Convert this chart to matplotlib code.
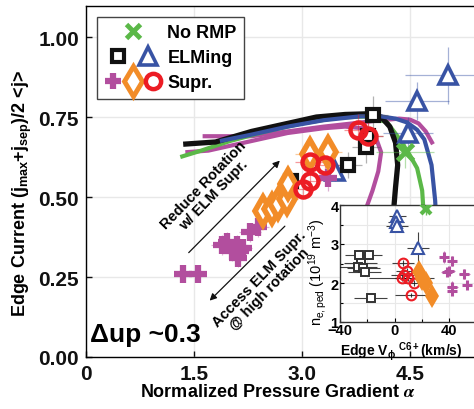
import matplotlib
matplotlib.use("Agg")
import matplotlib.pyplot as plt
from matplotlib.lines import Line2D
from matplotlib.legend_handler import HandlerTuple
import matplotlib.ticker as mticker

plt.rcParams["font.family"] = ["Liberation Sans", "DejaVu Sans"]
plt.rcParams["font.weight"] = "bold"
plt.rcParams["axes.labelweight"] = "bold"
plt.rcParams["mathtext.fontset"] = "stix"

GREEN = "#5BB848"
BLUE = "#3853A4"
MAGENTA = "#B24E9E"
ORANGE = "#F28C28"
RED = "#EC1C24"
BLACK = "#111111"
GRID = "#E8E8E8"

# ---- main panel: edge current vs normalized pressure gradient ----
norp_alpha = [4.43]
norp_j = [0.64]
norp_xerr = [0.40]
norp_yerr = [0.05]

elm_sq_alpha = [2.85, 3.64, 3.89, 3.92, 3.99]
elm_sq_j = [0.55, 0.60, 0.655, 0.69, 0.755]
elm_sq_xerr = [0.15, 0.20, 0.20, 0.20, 0.20]
elm_sq_yerr = [0.03, 0.04, 0.05, 0.05, 0.06]

elm_tri_alpha = [3.46, 4.47, 4.60, 5.03]
elm_tri_j = [0.58, 0.70, 0.80, 0.88]
elm_tri_xerr = [0.15, 0.35, 0.44, 0.60]
elm_tri_yerr = [0.03, 0.05, 0.06, 0.09]

supr_plus_alpha = [1.35, 1.56, 1.89, 1.96, 2.03, 2.10, 2.11, 2.14, 2.18, 2.28, 2.39, 3.36]
supr_plus_j = [0.26, 0.26, 0.35, 0.36, 0.33, 0.35, 0.31, 0.33, 0.34, 0.39, 0.405, 0.56]
supr_plus_xerr = [0.08, 0.08, 0.15, 0.12, 0.12, 0.15, 0.10, 0.12, 0.12, 0.15, 0.15, 0.15]
supr_plus_yerr = [0.02, 0.02, 0.03, 0.03, 0.03, 0.03, 0.03, 0.03, 0.03, 0.03, 0.03, 0.04]

supr_dia_alpha = [2.46, 2.58, 2.67, 2.79, 2.81, 3.11, 3.36]
supr_dia_j = [0.456, 0.462, 0.478, 0.494, 0.54, 0.635, 0.64]
supr_dia_xerr = [0.15, 0.15, 0.15, 0.15, 0.15, 0.20, 0.20]
supr_dia_yerr = [0.03, 0.03, 0.03, 0.03, 0.04, 0.05, 0.05]

supr_circ_alpha = [3.02, 3.11, 3.11, 3.32, 3.78, 3.92]
supr_circ_j = [0.525, 0.55, 0.61, 0.60, 0.71, 0.69]
supr_circ_xerr = [0.15, 0.15, 0.20, 0.20, 0.20, 0.20]
supr_circ_yerr = [0.03, 0.03, 0.04, 0.04, 0.05, 0.05]

# peeling-ballooning stability boundaries
bnd_black_a = [1.35, 1.8, 2.3, 2.8, 3.2, 3.6, 3.9, 4.1, 4.22, 4.3, 4.33, 4.3, 4.27]
bnd_black_j = [0.665, 0.672, 0.705, 0.73, 0.75, 0.758, 0.76, 0.75, 0.72, 0.67, 0.60, 0.53, 0.45]
bnd_green_a = [1.31, 1.6, 2.0, 2.5, 3.0, 3.5, 3.9, 4.18, 4.36, 4.5, 4.6, 4.67, 4.69]
bnd_green_j = [0.625, 0.645, 0.675, 0.705, 0.73, 0.748, 0.752, 0.734, 0.68, 0.63, 0.59, 0.52, 0.45]
bnd_blue_a = [1.86, 2.3, 2.8, 3.3, 3.8, 4.1, 4.3, 4.46, 4.6, 4.7, 4.8, 4.85, 4.86]
bnd_blue_j = [0.675, 0.695, 0.72, 0.74, 0.752, 0.752, 0.745, 0.733, 0.71, 0.68, 0.60, 0.49, 0.45]
bnd_mag1_a = [1.62, 2.0, 2.3, 2.8, 3.3, 3.7, 4.1, 4.35, 4.5, 4.62, 4.72, 4.82]
bnd_mag1_j = [0.69, 0.69, 0.69, 0.705, 0.72, 0.73, 0.74, 0.745, 0.742, 0.73, 0.705, 0.665]
bnd_mag2_a = [1.38, 1.7, 2.2, 2.8, 3.3, 3.6, 3.85, 4.02, 4.1, 4.06, 3.98, 3.9, 3.87]
bnd_mag2_j = [0.64, 0.645, 0.67, 0.70, 0.715, 0.72, 0.715, 0.69, 0.64, 0.58, 0.52, 0.47, 0.45]

# ---- inset: pedestal density vs edge carbon rotation ----
in_norp_v = [23]
in_norp_n = [3.9]
in_sq_v = [-26, -19, -25, -27, -23, -22, -17.5]
in_sq_n = [2.72, 2.72, 2.51, 2.41, 2.38, 2.28, 1.62]
in_sq_verr = [10, 10, 12, 14, 12, 12, 12]
in_sq_nerr = [0.12, 0.1, 0.1, 0.12, 0.1, 0.1, 0.08]
in_tri_v = [2, 1, 1.5, 17]
in_tri_n = [3.72, 3.56, 3.45, 2.9]
in_tri_verr = [6, 6, 8, 8]
in_tri_nerr = [0.12, 0.12, 0.15, 0.42]
in_circ_v = [6, 9, 7, 5, 10, 14, 12]
in_circ_n = [2.51, 2.31, 2.2, 2.12, 2.12, 2.0, 1.69]
in_circ_verr = [8, 8, 10, 24, 10, 8, 12]
in_circ_nerr = [0.08, 0.08, 0.08, 0.08, 0.08, 0.08, 0.06]
in_dia_v = [17.5, 20, 23, 27]
in_dia_n = [2.28, 2.1, 2.0, 1.67]
in_plus_v = [36, 42, 38, 40, 51, 42, 53, 42]
in_plus_n = [2.67, 2.56, 2.28, 2.3, 2.23, 1.9, 1.95, 1.8]
in_plus_verr = [3, 3, 4, 4, 4, 4, 3, 3]
in_plus_nerr = [0.15, 0.12, 0.1, 0.1, 0.12, 0.15, 0.1, 0.1]


def errbars(ax, x, y, xerr, yerr, color, lw=0.9, alpha=0.45):
    ax.errorbar(x, y, xerr=xerr, yerr=yerr, fmt="none", ecolor=color,
                elinewidth=lw, alpha=alpha, capsize=0, zorder=4)


fig = plt.figure(figsize=(4.74, 4.10), dpi=100)
ax = fig.add_axes([86 / 474, 1 - 358 / 410, 1 - 86 / 474, (358 - 7) / 410])

ax.set_xlim(0, 5.39)
ax.set_ylim(0, 1.097)
ax.set_xticks([0, 1.5, 3.0, 4.5])
ax.set_xticklabels(["0", "1.5", "3.0", "4.5"])
ax.set_yticks([0, 0.25, 0.5, 0.75, 1.0])
ax.yaxis.set_major_formatter(mticker.FormatStrFormatter("%.2f"))
ax.tick_params(direction="in", length=4, width=1, labelsize=15, pad=5, colors=BLACK)
ax.grid(color=GRID, lw=1, zorder=0)
ax.spines["right"].set_visible(False)
for s in ("left", "bottom", "top"):
    ax.spines[s].set_linewidth(1.0)

ax.set_xlabel(r"Normalized Pressure Gradient $\alpha$", fontsize=13)
ax.xaxis.set_label_coords(0.495, -0.097)
ax.set_ylabel(r"Edge Current (j$\mathregular{_{max}}$+j$\mathregular{_{sep}}$)/2 <j>",
              fontsize=13)
ax.yaxis.set_label_coords(-0.165, 0.47)
ax.xaxis.label.set_va("center")
ax.yaxis.label.set_va("center")

# stability boundaries
ax.plot(bnd_mag2_a, bnd_mag2_j, color=MAGENTA, lw=3.0, zorder=2, solid_capstyle="butt")
ax.plot(bnd_mag1_a, bnd_mag1_j, color=MAGENTA, lw=3.0, zorder=2, solid_capstyle="butt")
ax.plot(bnd_green_a, bnd_green_j, color=GREEN, lw=3.0, zorder=2, solid_capstyle="butt")
ax.plot(bnd_blue_a, bnd_blue_j, color=BLUE, lw=3.0, zorder=2.5, solid_capstyle="butt")
ax.plot(bnd_black_a, bnd_black_j, color=BLACK, lw=3.8, zorder=2.2, solid_capstyle="butt")

# measured points
errbars(ax, elm_tri_alpha, elm_tri_j, elm_tri_xerr, elm_tri_yerr, BLUE)
errbars(ax, norp_alpha, norp_j, norp_xerr, norp_yerr, GREEN)
errbars(ax, elm_sq_alpha, elm_sq_j, elm_sq_xerr, elm_sq_yerr, "#555555")
errbars(ax, supr_plus_alpha, supr_plus_j, supr_plus_xerr, supr_plus_yerr, MAGENTA)
errbars(ax, supr_dia_alpha, supr_dia_j, supr_dia_xerr, supr_dia_yerr, ORANGE)
errbars(ax, supr_circ_alpha, supr_circ_j, supr_circ_xerr, supr_circ_yerr, RED)

ax.plot(elm_tri_alpha, elm_tri_j, ls="none", marker="^", ms=13, mew=2.6,
        mec=BLUE, mfc="white", zorder=5)
ax.plot(norp_alpha, norp_j, ls="none", marker="x", ms=11, mew=3.5, mec=GREEN, zorder=5)
ax.plot(elm_sq_alpha, elm_sq_j, ls="none", marker="s", ms=9, mew=3.0,
        mec=BLACK, mfc="white", zorder=5)
ax.plot(supr_plus_alpha, supr_plus_j, ls="none", marker="+", ms=13, mew=4.5,
        mec=MAGENTA, zorder=5)
ax.plot(supr_dia_alpha, supr_dia_j, ls="none", marker="d", ms=14, mew=4.0,
        mec=ORANGE, mfc="white", zorder=5)
ax.plot(supr_circ_alpha, supr_circ_j, ls="none", marker="o", ms=11.5, mew=3.2,
        mec=RED, mfc="none", zorder=6)

# rotation arrows
ax.annotate("", xy=(2.72, 0.62), xytext=(1.40, 0.32),
            arrowprops=dict(arrowstyle="-|>", color=BLACK, lw=0.9, mutation_scale=10), zorder=3)
ax.annotate("", xy=(1.69, 0.17), xytext=(2.79, 0.415),
            arrowprops=dict(arrowstyle="-|>", color=BLACK, lw=0.9, mutation_scale=10), zorder=3)
ax.text(1.70, 0.525, "Reduce Rotation\nw/ ELM Supr.", rotation=46, ha="center", va="center",
        fontsize=10.5, linespacing=1.0, rotation_mode="anchor")
ax.text(2.48, 0.23, "Access ELM Supr.\n@ high rotation", rotation=46, ha="center", va="center",
        fontsize=10.5, linespacing=1.0, rotation_mode="anchor")

ax.text(0.01, 0.03, "\u0394up ~0.3", transform=ax.transAxes, fontsize=19,
        ha="left", va="bottom")

handles = [
    Line2D([], [], ls="none", marker="x", ms=10, mew=3.5, mec=GREEN),
    (Line2D([], [], ls="none", marker="s", ms=9, mew=3.0, mec=BLACK, mfc="white"),
     Line2D([], [], ls="none", marker="^", ms=13, mew=2.6, mec=BLUE, mfc="white")),
    (Line2D([], [], ls="none", marker="+", ms=12, mew=4.5, mec=MAGENTA),
     Line2D([], [], ls="none", marker="d", ms=15, mew=3.5, mec=ORANGE, mfc="white"),
     Line2D([], [], ls="none", marker="o", ms=11, mew=3.2, mec=RED, mfc="none")),
]
leg = ax.legend(handles, ["No RMP", "ELMing", "Supr."],
                handler_map={tuple: HandlerTuple(ndivide=None, pad=0.05)},
                loc="upper left", bbox_to_anchor=(0.028, 0.969), borderaxespad=0,
                fontsize=13, handlelength=3.2, handletextpad=0.3, labelspacing=0.45,
                borderpad=0.4, fancybox=False, framealpha=1, edgecolor="#444444")
leg.get_frame().set_linewidth(1.0)
leg.set_zorder(8)

# ---- inset ----
ins = fig.add_axes([340 / 474, 1 - 323 / 410, (474 - 340) / 474, (323 - 206) / 410])
ins.set_zorder(10)
ins.set_facecolor("white")
ins.set_xlim(-40, 58)
ins.set_ylim(1, 4)
ins.set_xticks([-40, 0, 40])
ins.set_yticks([1, 2, 3, 4])
ins.xaxis.set_minor_locator(mticker.MultipleLocator(20))
ins.yaxis.set_minor_locator(mticker.MultipleLocator(0.5))
ins.grid(which="both", color=GRID, lw=0.8)
ins.set_axisbelow(True)
ins.tick_params(which="both", direction="in", length=3, width=0.8, labelsize=10.5, pad=1)
ins.tick_params(which="minor", length=2)
ins.spines["right"].set_visible(False)
for s in ("left", "bottom", "top"):
    ins.spines[s].set_linewidth(1.0)
    ins.spines[s].set_color("#333333")
ins.set_xlabel(r"Edge V$\mathregular{_{\phi}}$ $\mathregular{^{C6+}}$(km/s)", fontsize=10)
ins.xaxis.set_label_coords(0.46, -0.245)
ins.xaxis.label.set_va("center")
ins.set_ylabel(r"n$\mathregular{_{e,ped}}$ (10$\mathregular{^{19}}$ m$\mathregular{^{-3}}$)",
               fontsize=10.5, fontweight="normal")
ins.yaxis.set_label_coords(-0.17, 0.43)
ins.yaxis.label.set_va("center")

errbars(ins, in_sq_v, in_sq_n, in_sq_verr, in_sq_nerr, BLACK, lw=0.8, alpha=0.8)
errbars(ins, in_tri_v, in_tri_n, in_tri_verr, in_tri_nerr, BLACK, lw=0.8, alpha=0.8)
errbars(ins, in_circ_v, in_circ_n, in_circ_verr, in_circ_nerr, BLACK, lw=0.8, alpha=0.8)
errbars(ins, in_plus_v, in_plus_n, in_plus_verr, in_plus_nerr, MAGENTA, lw=0.8, alpha=0.7)
errbars(ins, in_norp_v, in_norp_n, [2], [0.15], GREEN, lw=1.0, alpha=0.9)

ins.plot(in_sq_v, in_sq_n, ls="none", marker="s", ms=6, mew=1.4, mec="#333333", mfc="white", zorder=5)
ins.plot(in_tri_v, in_tri_n, ls="none", marker="^", ms=8, mew=1.5, mec=BLUE, mfc="white", zorder=5)
ins.plot(in_norp_v, in_norp_n, ls="none", marker="x", ms=7, mew=3, mec=GREEN, zorder=5)
ins.plot(in_circ_v, in_circ_n, ls="none", marker="o", ms=7, mew=1.5, mec=RED, mfc="none", zorder=5)
ins.plot(in_dia_v, in_dia_n, ls="none", marker="d", ms=12, mew=0, mfc=ORANGE, zorder=5)
ins.plot(in_plus_v, in_plus_n, ls="none", marker="+", ms=7, mew=2.2, mec=MAGENTA, zorder=5)

fig.savefig("out.png", dpi=100)
